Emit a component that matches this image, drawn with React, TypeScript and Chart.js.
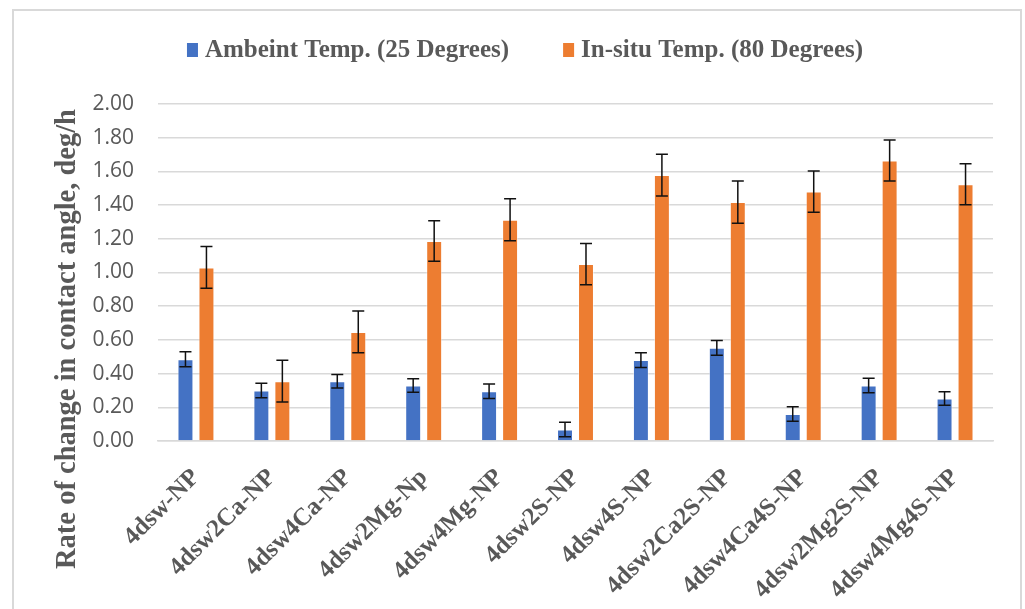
import React, { useEffect, useRef } from "react";
import { Chart, registerables } from "chart.js";

Chart.register(...registerables);

const categories = [
  "4dsw-NP",
  "4dsw2Ca-NP",
  "4dsw4Ca-NP",
  "4dsw2Mg-Np",
  "4dsw4Mg-NP",
  "4dsw2S-NP",
  "4dsw4S-NP",
  "4dsw2Ca2S-NP",
  "4dsw4Ca4S-NP",
  "4dsw2Mg2S-NP",
  "4dsw4Mg4S-NP",
];

const ambientValues = [0.485, 0.30, 0.355, 0.33, 0.295, 0.068, 0.48, 0.553, 0.16, 0.33, 0.252];
const ambientErrors = [0.045, 0.043, 0.04, 0.04, 0.043, 0.043, 0.044, 0.044, 0.043, 0.043, 0.04];
const insituValues = [1.03, 0.355, 0.647, 1.187, 1.313, 1.05, 1.578, 1.418, 1.48, 1.665, 1.524];
const insituErrors = [0.124, 0.124, 0.124, 0.12, 0.125, 0.122, 0.124, 0.125, 0.123, 0.122, 0.122];

const seriesNames = ["Ambeint Temp. (25 Degrees)", "In-situ Temp. (80 Degrees)"];
const seriesColors = ["#4472C4", "#ED7D31"];
const yTitle = "Rate of change in contact angle, deg/h";

const errorBarPlugin = {
  id: "errorBars",
  afterDatasetsDraw(chart: any) {
    const ctx = chart.ctx;
    const y = chart.scales.y;
    const errs = [ambientErrors, insituErrors];
    ctx.save();
    ctx.strokeStyle = "#111";
    ctx.lineWidth = 1.5;
    chart.data.datasets.forEach((ds: any, di: number) => {
      const meta = chart.getDatasetMeta(di);
      meta.data.forEach((bar: any, i: number) => {
        const v = ds.data[i];
        const e = errs[di][i];
        const top = y.getPixelForValue(v + e);
        const bot = y.getPixelForValue(v - e);
        const x = bar.x;
        ctx.beginPath();
        ctx.moveTo(x, top);
        ctx.lineTo(x, bot);
        ctx.moveTo(x - 6, top);
        ctx.lineTo(x + 6, top);
        ctx.moveTo(x - 6, bot);
        ctx.lineTo(x + 6, bot);
        ctx.stroke();
      });
    });
    ctx.restore();
  },
};

const decorPlugin = {
  id: "decor",
  beforeDraw(chart: any) {
    const ctx = chart.ctx;
    ctx.save();
    ctx.fillStyle = "#fff";
    ctx.fillRect(0, 0, chart.width, chart.height);
    ctx.strokeStyle = "#d9d9d9";
    ctx.lineWidth = 2;
    ctx.strokeRect(13, 10, 1008, 620);
    ctx.restore();
  },
  afterDraw(chart: any) {
    const ctx = chart.ctx;
    ctx.save();
    // legend
    ctx.font = "bold 25px 'Liberation Serif'";
    ctx.textBaseline = "middle";
    const boxW = 11;
    const boxH = 14;
    const gapBox = 7;
    const gapItems = 54;
    const widths = seriesNames.map((n) => ctx.measureText(n).width);
    const total = widths.reduce((a, w) => a + boxW + gapBox + w, 0) + gapItems;
    let x = 525 - total / 2;
    const cy = 50;
    seriesNames.forEach((n, i) => {
      ctx.fillStyle = seriesColors[i];
      ctx.fillRect(x, cy - boxH / 2, boxW, boxH);
      x += boxW + gapBox;
      ctx.fillStyle = "#595959";
      ctx.textAlign = "left";
      ctx.fillText(n, x, cy + 1);
      x += widths[i] + gapItems;
    });
    // y title
    ctx.translate(68, 339);
    ctx.rotate(-Math.PI / 2);
    ctx.font = "bold 28.5px 'Liberation Serif'";
    ctx.textAlign = "center";
    ctx.fillStyle = "#595959";
    ctx.fillText(yTitle, 0, 0);
    ctx.restore();
  },
};

export default function App() {
  const ref = useRef<HTMLCanvasElement>(null);
  useEffect(() => {
    if (!ref.current) return;
    const chart = new Chart(ref.current, {
      type: "bar",
      data: {
        labels: categories,
        datasets: [
          {
            label: seriesNames[0],
            data: ambientValues,
            backgroundColor: seriesColors[0],
            borderColor: "rgba(255,255,255,0.45)",
            borderWidth: 1,
            categoryPercentage: 0.553,
            barPercentage: 0.76,
          },
          {
            label: seriesNames[1],
            data: insituValues,
            backgroundColor: seriesColors[1],
            borderColor: "rgba(255,255,255,0.45)",
            borderWidth: 1,
            categoryPercentage: 0.553,
            barPercentage: 0.76,
          },
        ],
      },
      options: {
        responsive: false,
        animation: false,
        layout: { padding: { left: 0, right: 32, top: 104, bottom: 0 } },
        plugins: {
          legend: { display: false },
          tooltip: { enabled: false },
        },
        scales: {
          x: {
            grid: { display: false, drawTicks: false },
            border: { color: "#d9d9d9", width: 1.5 },
            ticks: {
              maxRotation: 45,
              minRotation: 45,
              padding: 22,
              color: "#595959",
              font: { family: "'Liberation Serif'", size: 25, weight: "bold" },
            },
            afterFit(scale: any) {
              scale.height = 168;
            },
          },
          y: {
            min: 0,
            max: 2,
            ticks: {
              stepSize: 0.2,
              padding: 24,
              color: "#595959",
              font: { family: "'Open Sans'", size: 21 },
              callback: (v: any) => Number(v).toFixed(2),
            },
            grid: { color: "#d9d9d9", lineWidth: 1.5, drawTicks: false },
            border: { display: false },
            afterFit(scale: any) {
              scale.width = 158;
            },
          },
        },
      } as any,
      plugins: [errorBarPlugin, decorPlugin],
    });
    return () => chart.destroy();
  }, []);
  return (
    <div style={{ position: "absolute", left: 0, top: 0, width: 1025, height: 609 }}>
      <canvas ref={ref} width={1025} height={609} style={{ display: "block" }} />
    </div>
  );
}
